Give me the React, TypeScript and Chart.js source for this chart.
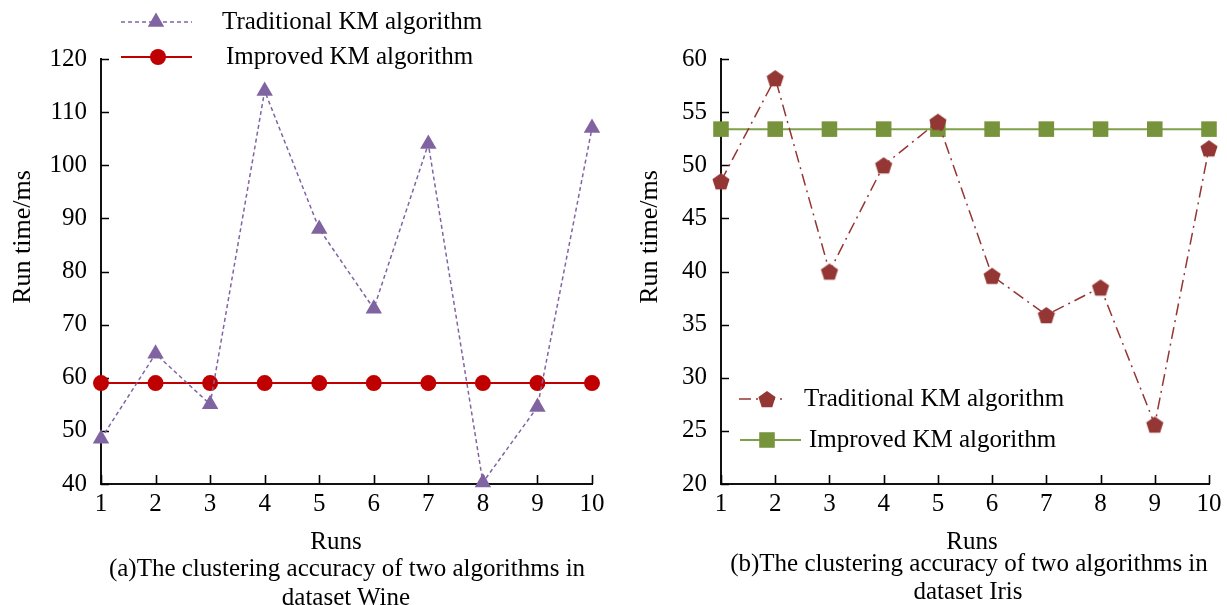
import React, { useEffect, useRef } from 'react';
import { Chart, registerables } from 'chart.js';

Chart.register(...registerables);

// ---------------- data ----------------
const runs = ['1', '2', '3', '4', '5', '6', '7', '8', '9', '10'];
const seriesNames = ['Traditional KM algorithm', 'Improved KM algorithm'];

const wineTraditional = [48.5, 64.5, 55, 114, 88, 73, 104, 40.3, 54.5, 107];
const wineImproved = [59, 59, 59, 59, 59, 59, 59, 59, 59, 59];

const irisTraditional = [48.5, 58.2, 40, 50, 54.1, 39.6, 35.9, 38.5, 25.6, 51.6];
const irisImproved = [53.4, 53.4, 53.4, 53.4, 53.4, 53.4, 53.4, 53.4, 53.4, 53.4];

const wineAxis = { min: 40, max: 120, step: 10 };
const irisAxis = { min: 20, max: 60, step: 5 };

const yTitle = 'Run time/ms';
const xTitle = 'Runs';
const captionA = ['(a)The clustering accuracy of two algorithms in', 'dataset Wine'];
const captionB = ['(b)The clustering accuracy of two algorithms in', 'dataset Iris'];

// ---------------- styles ----------------
const FONT = "'Liberation Serif', 'Times New Roman', Times, serif";
const PURPLE = '#8064A2';
const RED = '#C00000';
const DARKRED = '#943634';
const GREEN = '#77933C';
const GREEN_LINE = '#7FA04A';

function makePentagon(color: string, r: number): HTMLCanvasElement {
  const size = Math.ceil(r * 2 + 2);
  const c = document.createElement('canvas');
  c.width = size;
  c.height = size;
  const ctx = c.getContext('2d')!;
  const cx = size / 2;
  const cy = size / 2 + 0.9;
  ctx.beginPath();
  for (let i = 0; i < 5; i++) {
    const a = -Math.PI / 2 + (i * 2 * Math.PI) / 5;
    const x = cx + Math.cos(a) * r;
    const y = cy + Math.sin(a) * r;
    if (i === 0) ctx.moveTo(x, y);
    else ctx.lineTo(x, y);
  }
  ctx.closePath();
  ctx.fillStyle = color;
  ctx.fill();
  return c;
}

type LegendItem = {
  y: number;
  x1: number;
  x2: number;
  mx: number;
  tx: number;
  ds: number;
};

type PanelCfg = {
  width: number;
  left: number;
  yWidth: number;
  padRight: number;
  axis: { min: number; max: number; step: number };
  datasets: (pent: HTMLCanvasElement) => any[];
  legend: LegendItem[];
  yTitleX: number;
  yTitleY: number;
};

function drawMarker(ctx: CanvasRenderingContext2D, ds: any, x: number, y: number) {
  const style = ds.pointStyle;
  if (style instanceof HTMLCanvasElement) {
    ctx.drawImage(style, x - style.width / 2, y - style.height / 2);
    return;
  }
  const r = ds.pointRadius;
  ctx.fillStyle = ds.pointBackgroundColor;
  ctx.beginPath();
  if (style === 'circle') {
    ctx.arc(x, y, r, 0, Math.PI * 2);
  } else if (style === 'triangle') {
    for (let i = 0; i < 3; i++) {
      const a = -Math.PI / 2 + (i * 2 * Math.PI) / 3;
      const px = x + Math.cos(a) * r;
      const py = y + Math.sin(a) * r;
      if (i === 0) ctx.moveTo(px, py);
      else ctx.lineTo(px, py);
    }
    ctx.closePath();
  } else if (style === 'rect') {
    const s = Math.SQRT1_2 * r;
    ctx.rect(x - s, y - s, 2 * s, 2 * s);
  }
  ctx.fill();
}

function Panel({ cfg }: { cfg: PanelCfg }) {
  const ref = useRef<HTMLCanvasElement | null>(null);
  useEffect(() => {
    const canvas = ref.current;
    if (!canvas) return;
    const pent = makePentagon(DARKRED, 9);
    const decor = {
      id: 'decor',
      beforeDatasetsDraw(chart: any) {
        const { ctx, chartArea } = chart;
        const xs = chart.scales.x;
        const ys = chart.scales.y;
        ctx.save();
        ctx.strokeStyle = '#000';
        ctx.lineWidth = 1.6;
        ctx.beginPath();
        ys.ticks.forEach((t: any) => {
          const py = Math.round(ys.getPixelForValue(t.value)) + 0.5;
          ctx.moveTo(chartArea.left, py);
          ctx.lineTo(chartArea.left + 8, py);
        });
        for (let i = 0; i < runs.length; i++) {
          const px = Math.round(xs.getPixelForValue(i)) + 0.5;
          ctx.moveTo(px, chartArea.bottom);
          ctx.lineTo(px, chartArea.bottom - 9);
        }
        ctx.stroke();
        ctx.restore();
      },
      afterDraw(chart: any) {
        const { ctx } = chart;
        ctx.save();
        ctx.translate(cfg.yTitleX, cfg.yTitleY);
        ctx.rotate(-Math.PI / 2);
        ctx.fillStyle = '#000';
        ctx.font = `26px ${FONT}`;
        ctx.textAlign = 'center';
        ctx.textBaseline = 'middle';
        ctx.fillText(yTitle, 0, 0);
        ctx.restore();
        cfg.legend.forEach((it) => {
          const ds = chart.data.datasets[it.ds];
          ctx.save();
          ctx.strokeStyle = ds.borderColor;
          ctx.lineWidth = ds.borderWidth;
          ctx.setLineDash(ds.borderDash || []);
          ctx.beginPath();
          ctx.moveTo(it.x1, it.y);
          ctx.lineTo(it.x2, it.y);
          ctx.stroke();
          ctx.setLineDash([]);
          drawMarker(ctx, ds, it.mx, it.y);
          ctx.fillStyle = '#000';
          ctx.font = `25px ${FONT}`;
          ctx.textAlign = 'left';
          ctx.textBaseline = 'middle';
          ctx.fillText(ds.label, it.tx, it.y);
          ctx.restore();
        });
      },
    };
    const chart = new Chart(canvas, {
      type: 'line',
      data: { labels: runs, datasets: cfg.datasets(pent) },
      options: {
        responsive: false,
        animation: false,
        events: [],
        layout: { padding: { left: 0, right: cfg.padRight, top: 59, bottom: 81 } },
        plugins: { legend: { display: false }, tooltip: { enabled: false }, title: { display: false } },
        scales: {
          x: {
            type: 'category',
            offset: false,
            grid: { display: false, drawTicks: false },
            border: { display: true, color: '#111', width: 2 },
            ticks: { color: '#000', font: { family: FONT, size: 25 }, padding: 5, autoSkip: false, maxRotation: 0 },
            afterFit: (s: any) => {
              s.height = 40;
            },
          },
          y: {
            type: 'linear',
            min: cfg.axis.min,
            max: cfg.axis.max,
            grid: { display: false, drawTicks: false },
            border: { display: true, color: '#111', width: 2 },
            ticks: { stepSize: cfg.axis.step, color: '#000', font: { family: FONT, size: 25 }, padding: 14 },
            afterFit: (s: any) => {
              s.width = cfg.yWidth;
            },
          },
        },
      } as any,
      plugins: [decor],
    });
    return () => chart.destroy();
  }, [cfg]);
  return (
    <canvas
      ref={ref}
      width={cfg.width}
      height={605}
      style={{ position: 'absolute', left: cfg.left, top: 0, width: cfg.width, height: 605 }}
    />
  );
}

const wineCfg: PanelCfg = {
  width: 613,
  left: 0,
  yWidth: 101,
  padRight: 21,
  axis: wineAxis,
  datasets: () => [
    {
      label: seriesNames[0],
      data: wineTraditional,
      borderColor: PURPLE,
      backgroundColor: PURPLE,
      borderWidth: 1.5,
      borderDash: [4, 3],
      pointStyle: 'triangle',
      pointRadius: 9.5,
      pointBackgroundColor: PURPLE,
      pointBorderColor: PURPLE,
      pointBorderWidth: 0,
      tension: 0,
      clip: false,
    },
    {
      label: seriesNames[1],
      data: wineImproved,
      borderColor: RED,
      backgroundColor: RED,
      borderWidth: 2,
      pointStyle: 'circle',
      pointRadius: 8,
      pointBackgroundColor: RED,
      pointBorderColor: RED,
      pointBorderWidth: 0,
      tension: 0,
      clip: false,
    },
  ],
  legend: [
    { y: 22, x1: 121, x2: 192, mx: 156, tx: 222, ds: 0 },
    { y: 57, x1: 121, x2: 192, mx: 158, tx: 226, ds: 1 },
  ],
  yTitleX: 23,
  yTitleY: 237,
};

const irisCfg: PanelCfg = {
  width: 614,
  left: 613,
  yWidth: 108,
  padRight: 18,
  axis: irisAxis,
  datasets: (pent) => [
    {
      label: seriesNames[0],
      data: irisTraditional,
      borderColor: DARKRED,
      backgroundColor: DARKRED,
      borderWidth: 1.5,
      borderDash: [12, 5, 2, 5],
      pointStyle: pent,
      pointRadius: 9,
      pointBackgroundColor: DARKRED,
      pointBorderColor: DARKRED,
      pointBorderWidth: 0,
      tension: 0,
      clip: false,
    },
    {
      label: seriesNames[1],
      data: irisImproved,
      borderColor: GREEN_LINE,
      backgroundColor: GREEN,
      borderWidth: 2,
      pointStyle: 'rect',
      pointRadius: 11,
      pointBackgroundColor: GREEN,
      pointBorderColor: GREEN,
      pointBorderWidth: 0,
      tension: 0,
      clip: false,
    },
  ],
  legend: [
    { y: 399, x1: 739 - 613, x2: 787 - 613, mx: 767 - 613, tx: 804 - 613, ds: 0 },
    { y: 440, x1: 740 - 613, x2: 801 - 613, mx: 767 - 613, tx: 809 - 613, ds: 1 },
  ],
  yTitleX: 650 - 613,
  yTitleY: 237,
};

function Label({ text, cx, cy }: { text: string; cx: number; cy: number }) {
  return (
    <div
      style={{
        position: 'absolute',
        left: cx - 320,
        top: cy - 15,
        width: 640,
        height: 30,
        lineHeight: '30px',
        textAlign: 'center',
        fontFamily: FONT,
        fontSize: 25,
        color: '#000',
        whiteSpace: 'nowrap',
      }}
    >
      {text}
    </div>
  );
}

export default function App() {
  return (
    <div
      style={{
        position: 'absolute',
        left: 0,
        top: 0,
        width: 1227,
        height: 605,
        overflow: 'hidden',
        background: '#fff',
      }}
    >
      <Panel cfg={wineCfg} />
      <Panel cfg={irisCfg} />
      <Label text={xTitle} cx={336} cy={541} />
      <Label text={captionA[0]} cx={347} cy={568} />
      <Label text={captionA[1]} cx={346} cy={597} />
      <Label text={xTitle} cx={972} cy={541} />
      <Label text={captionB[0]} cx={969} cy={563} />
      <Label text={captionB[1]} cx={968} cy={591} />
    </div>
  );
}
